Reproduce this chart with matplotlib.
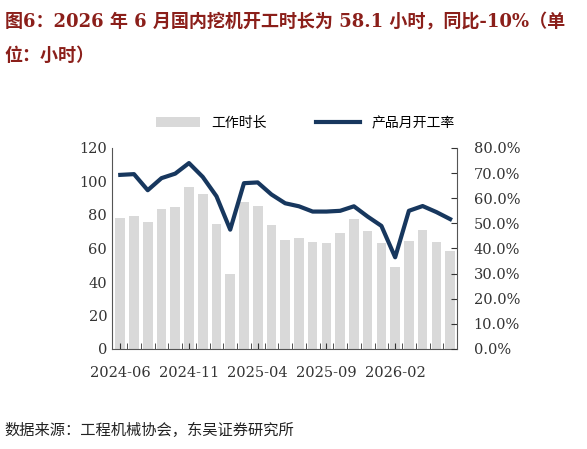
import numpy as np
import matplotlib.pyplot as plt
from matplotlib.ticker import FixedLocator

plt.rcParams['font.family'] = ['DejaVu Serif', 'Noto Sans CJK SC']

months = ['2024-06', '2024-07', '2024-08', '2024-09', '2024-10', '2024-11', '2024-12',
          '2025-01', '2025-02', '2025-03', '2025-04', '2025-05', '2025-06', '2025-07',
          '2025-08', '2025-09', '2025-10', '2025-11', '2025-12', '2026-01', '2026-02',
          '2026-03', '2026-04', '2026-05', '2026-06']
hours = [78, 79.5, 76, 83.5, 85, 96.5, 92.5, 74.5, 44.5, 88, 85.5, 74, 65, 66.5,
         64, 63.5, 69, 77.5, 70.5, 63.5, 49, 64.5, 71, 64, 58.5]
rate = [69.3, 69.6, 63.2, 68.0, 69.8, 74.0, 68.5, 60.8, 47.5, 66.0, 66.3, 61.5,
        58.0, 56.8, 54.7, 54.7, 55.0, 56.8, 52.7, 49.0, 36.5, 55.0, 56.9, 54.5, 51.7]

x = np.arange(len(months))
fig = plt.figure(figsize=(5.87, 4.49), dpi=100)
ax = fig.add_axes([112/587, 1-349/449, (457-112)/587, 201/449])
ax.bar(x, hours, width=0.7, color='#d9d9d9', label='工作时长')
ax.set_ylim(0, 120)
ax.set_yticks(range(0, 121, 20))
ax.set_xlim(-0.6, len(months) - 0.5)
ax.set_xticks(x[::5])
ax.set_xticklabels(months[::5])
ax.xaxis.set_minor_locator(FixedLocator(x[:-1] + 0.5))
ax.tick_params(axis='x', which='both', length=4, direction='in', pad=12, labelsize=10.5, colors='#333333')
ax.tick_params(axis='y', length=0, labelsize=10.5, colors='#333333')
for s in ['top', 'right']:
    ax.spines[s].set_visible(False)
for s in ['left', 'bottom']:
    ax.spines[s].set_color('#555555')

ax2 = ax.twinx()
ax2.plot(x, rate, color='#17375e', lw=3, label='产品月开工率')
ax2.set_ylim(0, 80)
ax2.set_yticks(range(0, 81, 10))
ax2.set_yticklabels([f'{v:.1f}%' for v in range(0, 81, 10)])
ax2.tick_params(axis='y', length=4, direction='in', labelsize=10.5, colors='#333333', pad=12)
for s in ['top', 'left', 'bottom']:
    ax2.spines[s].set_visible(False)
ax2.spines['right'].set_color('#555555')

h1, l1 = ax.get_legend_handles_labels()
h2, l2 = ax2.get_legend_handles_labels()
fig.legend(h1 + h2, l1 + l2, loc='center', bbox_to_anchor=(0.52, 1-123/449), ncol=2,
           frameon=False, handlelength=3.2, columnspacing=3.5,
           prop={'family': ['Noto Sans CJK SC'], 'size': 10})

fig.text(0.008, 1-22/449, '图6：2026 年 6 月国内挖机开工时长为 58.1 小时，同比-10%（单',
         fontsize=13, fontweight='bold', color='#8b1f1a', va='center')
fig.text(0.008, 1-56/449, '位：小时）', fontsize=13, fontweight='bold', color='#8b1f1a', va='center')
fig.text(0.008, 1-430/449, '数据来源：工程机械协会，东吴证券研究所', fontsize=11, color='#222222',
         va='center', family=['Noto Sans CJK SC'])

fig.savefig('out.png', dpi=100)
